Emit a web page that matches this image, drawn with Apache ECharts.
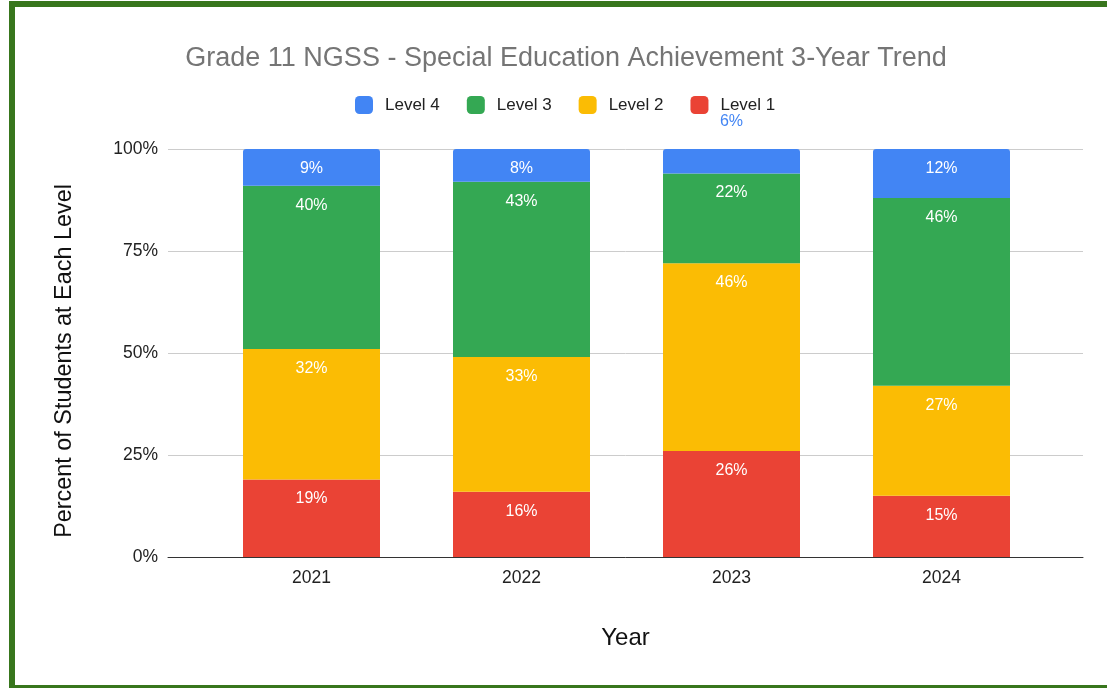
<!DOCTYPE html>
<html>
<head>
<meta charset="utf-8">
<script src="https://cdn.jsdelivr.net/npm/echarts@6/dist/echarts.min.js"></script>
<style>
html,body{margin:0;padding:0;background:#fff;}
#chart{width:1107px;height:688px;}
</style>
</head>
<body>
<div id="chart"></div>
<script>
const years = ['2021', '2022', '2023', '2024'];
const level1 = [19, 16, 26, 15];
const level2 = [32, 33, 46, 27];
const level3 = [40, 43, 22, 46];
const level4 = [9, 8, 6, 12];
const yTicks = [0, 25, 50, 75, 100];

const FONT = '"Liberation Sans", Arial, sans-serif';
const colors = {l4: '#4285f4', l3: '#34a853', l2: '#fbbc04', l1: '#ea4335'};

function whiteLabel() {
  return {show: true, position: 'insideTop', distance: 11.5, color: '#ffffff',
    fontSize: 16, fontFamily: FONT, formatter: '{c}%'};
}

const l4Data = level4.map(function (v, i) {
  if (v < 7) {
    return {value: v, label: {show: true, position: 'top', distance: 19,
      color: colors.l4, fontSize: 16, fontFamily: FONT, formatter: '{c}%'}};
  }
  return v;
});

const chart = echarts.init(document.getElementById('chart'));
chart.setOption({
  animation: false,
  backgroundColor: '#ffffff',
  textStyle: {fontFamily: FONT},
  title: {
    text: 'Grade 11 NGSS - Special Education Achievement 3-Year Trend',
    left: 561, top: 40.5, textAlign: 'center',
    textStyle: {fontSize: 27, fontWeight: 'normal', color: '#757575', fontFamily: FONT}
  },
  legend: {
    data: ['Level 4', 'Level 3', 'Level 2', 'Level 1'],
    left: 350, top: 91,
    itemWidth: 18, itemHeight: 18, itemGap: 27,
    icon: 'roundRect',
    textStyle: {fontSize: 17, color: '#222', fontFamily: FONT, padding: [0, 0, 0, 7]}
  },
  graphic: [{
    type: 'rect', silent: true, z: 100,
    shape: {x: 12, y: 4, width: 1200, height: 684},
    style: {fill: 'none', stroke: '#38761d', lineWidth: 6}
  }],
  grid: [
    {left: 168, right: 24, top: 149, bottom: 131},
    {left: 206.5, width: 840, top: 149, bottom: 131}
  ],
  xAxis: [
    {gridIndex: 0, type: 'category', data: years,
      axisLine: {show: true, lineStyle: {color: '#333', width: 1}},
      axisTick: {show: false}, axisLabel: {show: false}, splitLine: {show: false},
      name: 'Year', nameLocation: 'middle', nameGap: 69,
      nameTextStyle: {fontSize: 24, color: '#111', fontFamily: FONT}},
    {gridIndex: 1, type: 'category', data: years,
      axisLine: {show: false}, axisTick: {show: false},
      axisLabel: {fontSize: 17.5, color: '#222', margin: 12.5, fontFamily: FONT}}
  ],
  yAxis: [
    {gridIndex: 0, type: 'value', min: 0, max: 100, interval: 25,
      axisLine: {show: false}, axisTick: {show: false},
      axisLabel: {formatter: '{value}%', fontSize: 17.5, color: '#222', margin: 10, fontFamily: FONT},
      splitLine: {lineStyle: {color: '#cccccc', width: 1}},
      name: 'Percent of Students at Each Level', nameLocation: 'middle', nameGap: 92,
      nameTextStyle: {fontSize: 23.4, color: '#111', fontFamily: FONT, padding: [0, 16, 0, 0]}},
    {gridIndex: 1, type: 'value', min: 0, max: 100, interval: 25, show: false}
  ],
  series: [
    {name: 'Level 1', type: 'bar', stack: 'a', xAxisIndex: 1, yAxisIndex: 1, barWidth: 137,
      itemStyle: {color: colors.l1}, label: whiteLabel(), data: level1},
    {name: 'Level 2', type: 'bar', stack: 'a', xAxisIndex: 1, yAxisIndex: 1, barWidth: 137,
      itemStyle: {color: colors.l2}, label: whiteLabel(), data: level2},
    {name: 'Level 3', type: 'bar', stack: 'a', xAxisIndex: 1, yAxisIndex: 1, barWidth: 137,
      itemStyle: {color: colors.l3}, label: whiteLabel(), data: level3},
    {name: 'Level 4', type: 'bar', stack: 'a', xAxisIndex: 1, yAxisIndex: 1, barWidth: 137,
      itemStyle: {color: colors.l4, borderRadius: [3, 3, 0, 0]}, label: whiteLabel(), data: l4Data}
  ]
});
</script>
</body>
</html>
